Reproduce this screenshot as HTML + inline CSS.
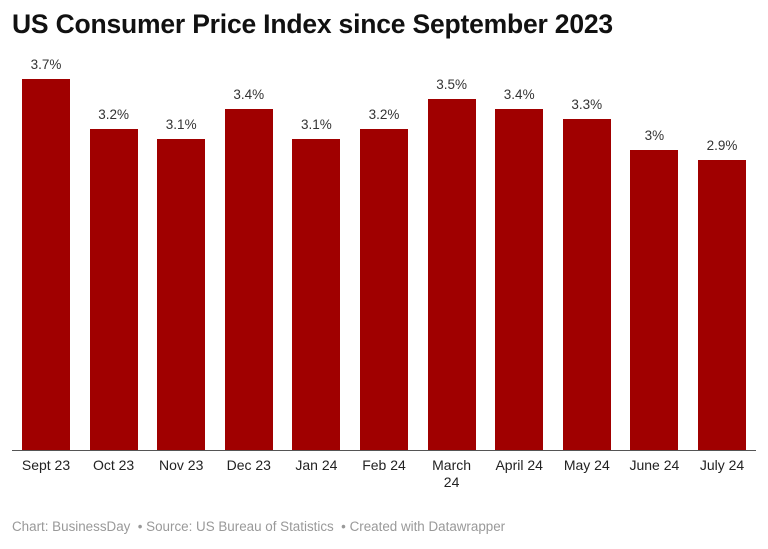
<!DOCTYPE html>
<html><head><meta charset="utf-8"><style>
body{margin:0;width:768px;height:549px;background:#fff;font-family:"Liberation Sans",sans-serif;position:relative;overflow:hidden}
.t{position:absolute;left:12px;top:9px;font-size:26.5px;font-weight:bold;color:#111;letter-spacing:-0.2px}
.b{position:absolute;width:48px;background:#a00000}
.v{position:absolute;width:80px;text-align:center;font-size:13.5px;color:#333}
.x{position:absolute;width:80px;text-align:center;font-size:14px;color:#222;line-height:17px;top:457px}
.f{position:absolute;left:12px;top:519px;font-size:13.4px;color:#999}
.base{position:absolute;left:12px;width:744px;top:450px;height:1px;background:#555}
</style></head><body>
<div class="t">US Consumer Price Index since September 2023</div>
<div id="c"></div>
<div class="base"></div>
<div class="f">Chart: BusinessDay &nbsp;• Source: US Bureau of Statistics &nbsp;• Created with Datawrapper</div>
<script>
var d=[["Sept 23",3.7,"3.7%"],["Oct 23",3.2,"3.2%"],["Nov 23",3.1,"3.1%"],["Dec 23",3.4,"3.4%"],["Jan 24",3.1,"3.1%"],["Feb 24",3.2,"3.2%"],["March<br>24",3.5,"3.5%"],["April 24",3.4,"3.4%"],["May 24",3.3,"3.3%"],["June 24",3.0,"3%"],["July 24",2.9,"2.9%"]];
var h="";d.forEach(function(e,i){var x=22+i*67.6,top=451-e[1]*100.5;
h+='<div class="b" style="left:'+x+'px;top:'+top+'px;height:'+(451-top)+'px"></div>';
h+='<div class="v" style="left:'+(x-16)+'px;top:'+(top-22)+'px">'+e[2]+'</div>';
h+='<div class="x" style="left:'+(x-16)+'px">'+e[0]+'</div>';});
document.getElementById("c").innerHTML=h;
</script>
</body></html>
